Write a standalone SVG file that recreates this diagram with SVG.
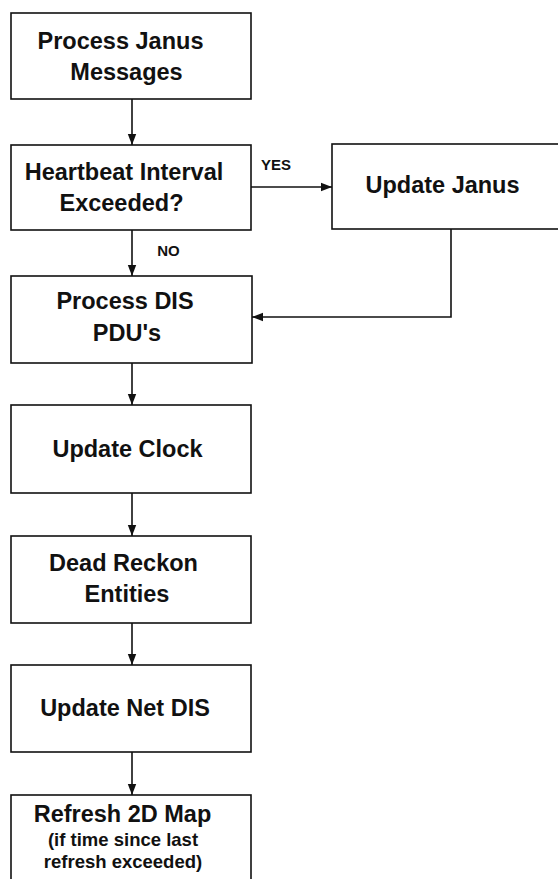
<svg xmlns="http://www.w3.org/2000/svg" width="558" height="879" viewBox="0 0 558 879">
<style>
.box{fill:#fff;stroke:#111;stroke-width:1.6}
.t{font-family:"Liberation Sans",Arial,sans-serif;font-weight:bold;font-size:23.5px;fill:#111;text-anchor:middle}
.s{font-family:"Liberation Sans",Arial,sans-serif;font-weight:bold;font-size:18.5px;fill:#111;text-anchor:middle}
.l{font-family:"Liberation Sans",Arial,sans-serif;font-weight:bold;font-size:15px;fill:#111;text-anchor:middle}
.c{fill:none;stroke:#111;stroke-width:1.6}
</style>
<defs>
<marker id="ah" markerUnits="userSpaceOnUse" markerWidth="12" markerHeight="10" refX="11" refY="5" orient="auto">
<path d="M0,0.8 L11,5 L0,9.2 Z" fill="#111"/>
</marker>
</defs>
<rect width="558" height="879" fill="#fff"/>
<g id="connectors">
<line class="c" x1="132" y1="99" x2="132" y2="145" marker-end="url(#ah)"/>
<line class="c" x1="132" y1="230" x2="132" y2="276" marker-end="url(#ah)"/>
<line class="c" x1="251" y1="187" x2="332" y2="187" marker-end="url(#ah)"/>
<polyline class="c" points="451,229 451,317 252,317" marker-end="url(#ah)"/>
<line class="c" x1="132" y1="363" x2="132" y2="405" marker-end="url(#ah)"/>
<line class="c" x1="132" y1="493" x2="132" y2="536" marker-end="url(#ah)"/>
<line class="c" x1="132" y1="623" x2="132" y2="665" marker-end="url(#ah)"/>
<line class="c" x1="132" y1="752" x2="132" y2="795" marker-end="url(#ah)"/>
<text class="l" x="276" y="170">YES</text>
<text class="l" x="168.5" y="256">NO</text>
</g>
<g id="process-janus">
<rect class="box" x="11" y="13" width="240" height="86"/>
<text class="t" x="120.5" y="49">Process Janus</text>
<text class="t" x="126.5" y="80">Messages</text>
</g>
<g id="heartbeat">
<rect class="box" x="11" y="145" width="240" height="85"/>
<text class="t" x="124" y="180">Heartbeat Interval</text>
<text class="t" x="121.5" y="211">Exceeded?</text>
</g>
<g id="update-janus">
<rect class="box" x="332" y="144" width="232" height="85"/>
<text class="t" x="442.5" y="193">Update Janus</text>
</g>
<g id="process-dis">
<rect class="box" x="11" y="276" width="241" height="87"/>
<text class="t" x="125" y="309">Process DIS</text>
<text class="t" x="127" y="341">PDU's</text>
</g>
<g id="update-clock">
<rect class="box" x="11" y="405" width="240" height="88"/>
<text class="t" x="127.5" y="457">Update Clock</text>
</g>
<g id="dead-reckon">
<rect class="box" x="11" y="536" width="240" height="87"/>
<text class="t" x="123.5" y="571">Dead Reckon</text>
<text class="t" x="127" y="602">Entities</text>
</g>
<g id="update-net-dis">
<rect class="box" x="11" y="665" width="240" height="87"/>
<text class="t" x="125" y="716">Update Net DIS</text>
</g>
<g id="refresh-map">
<rect class="box" x="11" y="795" width="240" height="100"/>
<text class="t" x="122.5" y="822">Refresh 2D Map</text>
<text class="s" x="123" y="846">(if time since last</text>
<text class="s" x="123" y="868">refresh exceeded)</text>
</g>
</svg>
